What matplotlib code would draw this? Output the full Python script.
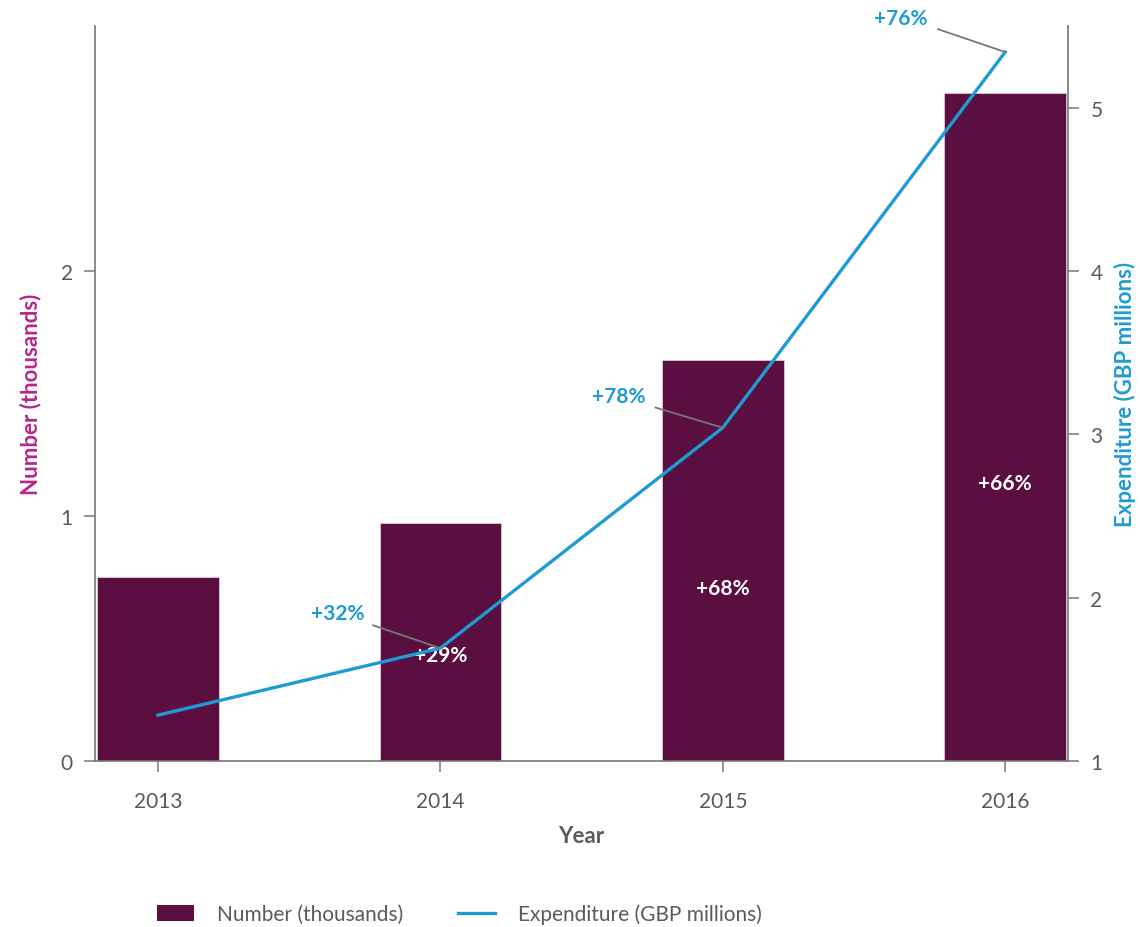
import matplotlib
matplotlib.use('Agg')
import matplotlib.pyplot as plt
from matplotlib.patches import Patch
from matplotlib.lines import Line2D

# --- Data ---
YEARS = ["2013", "2014", "2015", "2016"]
NUMBER_K = [0.75, 0.97, 1.635, 2.725]
EXPENDITURE_M = [1.28, 1.69, 3.04, 5.34]
NUMBER_GROWTH = [None, "+29%", "+68%", "+66%"]
EXPEND_GROWTH = [None, "+32%", "+78%", "+76%"]

BAR_COLOR = "#5b0f40"
LINE_COLOR = "#1f9bd4"
LEFT_LABEL_COLOR = "#b5278a"
GREY = "#5a5a5a"

plt.rcParams['font.family'] = ['Lato', 'DejaVu Sans']

fig = plt.figure(figsize=(11.4, 9.28), dpi=100, facecolor='white')
ax = fig.add_axes([0.0833, 0.179, 0.8537, 0.792])
ax2 = ax.twinx()

x = list(range(len(YEARS)))
ax.bar(x, NUMBER_K, width=0.43, color=BAR_COLOR, edgecolor='#e8d8e2', linewidth=0.5, zorder=2)
ax2.plot(x, EXPENDITURE_M, color=LINE_COLOR, lw=2.4, zorder=3)

ax.set_xlim(-0.223, 3.223)
ax.set_ylim(0, 3.0)
ax2.set_ylim(1, 5.5)

# bar growth labels (inside bars)
bar_label_y = [None, 0.434, 0.705, 1.135]
for i, lab in enumerate(NUMBER_GROWTH):
    if lab:
        ax.text(x[i], bar_label_y[i], lab, color='white', fontsize=15,
                fontweight='bold', ha='center', va='center', zorder=4)

# expenditure growth callouts
text_offsets = [None, (-0.362, 0.213), (-0.369, 0.197), (-0.369, 0.207)]
line_start = [None, (-0.238, 0.14), (-0.238, 0.123), (-0.238, 0.14)]
for i, lab in enumerate(EXPEND_GROWTH):
    if lab:
        dx, dy = text_offsets[i]
        sx, sy = line_start[i]
        ax2.plot([x[i] + sx, x[i]], [EXPENDITURE_M[i] + sy, EXPENDITURE_M[i]],
                 color='#777777', lw=1.3, zorder=5, clip_on=False)
        ax2.text(x[i] + dx, EXPENDITURE_M[i] + dy, lab, color=LINE_COLOR,
                 fontsize=15, fontweight='bold', ha='center', va='center',
                 clip_on=False)

# axes styling
for a in (ax, ax2):
    a.spines['top'].set_visible(False)
    for s in ('left', 'right', 'bottom'):
        a.spines[s].set_color('#777777')
        a.spines[s].set_linewidth(1.2)
ax.spines['right'].set_visible(False)
ax2.spines['left'].set_visible(False)
ax2.spines['bottom'].set_visible(False)

ax.set_xticks(x)
ax.set_xticklabels(YEARS)
ax.set_yticks([0, 1, 2])
ax2.set_yticks([1, 2, 3, 4, 5])
ax.tick_params(axis='both', colors='#777777', labelcolor=GREY, labelsize=15,
               length=8, width=1.1, pad=8)
ax2.tick_params(axis='y', colors='#777777', labelcolor=GREY, labelsize=15,
                length=8, width=1.1, pad=8)
ax.tick_params(axis='x', pad=14)

ax.set_xlabel("Year", color=GREY, fontsize=16, fontweight='bold', labelpad=10)
ax.set_ylabel("Number (thousands)", color=LEFT_LABEL_COLOR, fontsize=16,
              fontweight='bold', labelpad=14)
ax2.set_ylabel("Expenditure (GBP millions)", color=LINE_COLOR, fontsize=16,
               fontweight='bold', labelpad=8)

handles = [Patch(facecolor=BAR_COLOR, edgecolor='none'),
           Line2D([0], [0], color=LINE_COLOR, lw=2.4)]
fig.legend(handles, ["Number (thousands)", "Expenditure (GBP millions)"],
           loc='center left', bbox_to_anchor=(0.121, 0.014), ncol=2,
           frameon=False, fontsize=15, labelcolor=GREY,
           handlelength=1.8, handleheight=0.8, handletextpad=1.1,
           columnspacing=2.6)

plt.savefig("out.png", dpi=100, facecolor='white')
